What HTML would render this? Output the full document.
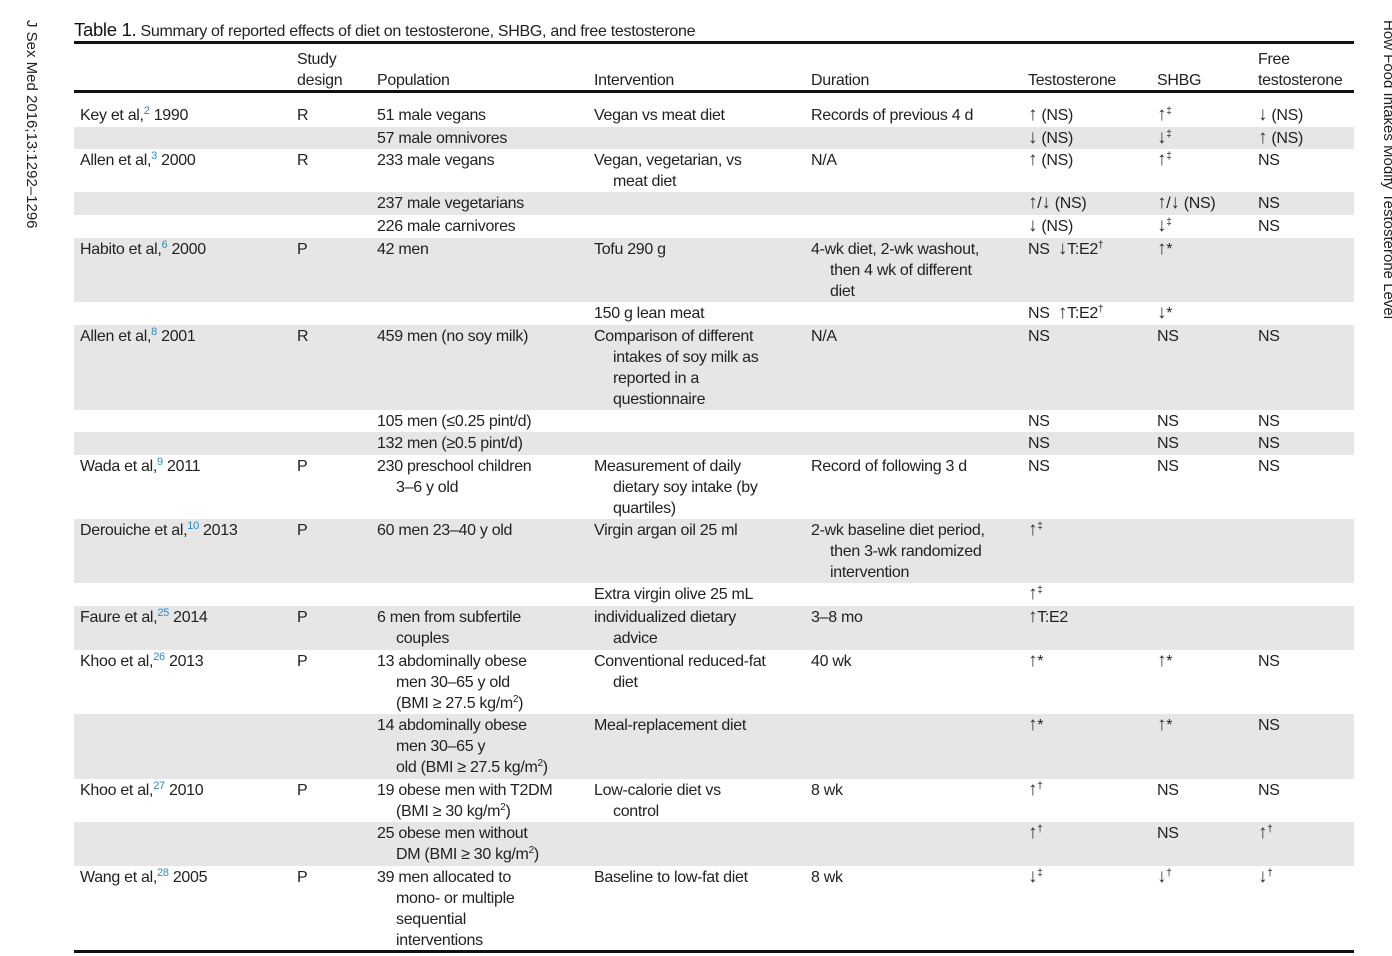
<!DOCTYPE html>
<html><head><meta charset="utf-8">
<style>
body{margin:0;width:1392px;height:956px;background:#fff;position:relative;overflow:hidden;font-family:"Liberation Sans","DejaVu Sans",sans-serif;color:#222;}
.t{position:absolute;font-size:16px;line-height:21px;white-space:nowrap;letter-spacing:-0.3px}
.band{position:absolute;left:74px;width:1280px;background:#e6e6e6}
.rule{position:absolute;left:74px;width:1280px;background:#111}
sup{font-size:10px;line-height:0;vertical-align:6px}
sup.r{color:#2a8bbf;font-size:11px}
.a{font-size:19px;line-height:0;color:#333}
.ind{padding-left:19px}
</style></head><body>
<div style="position:absolute;left:20px;top:20px;transform-origin:0 0;transform:translate(20px,0) rotate(90deg);font-size:15px;white-space:nowrap">J Sex Med 2016;13:1292–1296</div>
<div style="position:absolute;left:1382px;top:20px;transform-origin:0 0;transform:translate(15px,0) rotate(90deg);font-size:15px;white-space:nowrap">How Food Intakes Modify Testosterone Level</div>
<div class="t" style="left:74px;top:19px;font-size:16px"><span style="font-size:18.5px;color:#111">Table 1.</span> Summary of reported effects of diet on testosterone, SHBG, and free testosterone</div>
<div class="rule" style="top:41px;height:3px"></div>
<div class="rule" style="top:90px;height:3px"></div>
<div class="rule" style="top:950px;height:3px"></div>
<script>
const cols=[80,297,377,594,811,1028,1157,1258];
const headers=[[""],["Study","design"],["","Population"],["","Intervention"],["","Duration"],["","Testosterone"],["","SHBG"],["Free","testosterone"]];
const H=document.body;
headers.forEach((h,i)=>{const d=document.createElement('div');d.className='t';d.style.left=cols[i]+'px';d.style.top='49px';d.innerHTML=h.join('<br>');

H.appendChild(d);});
const U='<span class="a">↑</span>',D='<span class="a">↓</span>';
const rows=[
[104,0,['Key et al,<sup class="r">2</sup> 1990','R','51 male vegans','Vegan vs meat diet','Records of previous 4 d',U+' (NS)',U+'<sup>‡</sup>',D+' (NS)']],
[127,1,['','','57 male omnivores','','',D+' (NS)',D+'<sup>‡</sup>',U+' (NS)']],
[149,0,['Allen et al,<sup class="r">3</sup> 2000','R','233 male vegans','Vegan, vegetarian, vs<br><span class="ind">meat diet</span>','N/A',U+' (NS)',U+'<sup>‡</sup>','NS']],
[192,1,['','','237 male vegetarians','','',U+'/'+D+' (NS)',U+'/'+D+' (NS)','NS']],
[215,0,['','','226 male carnivores','','',D+' (NS)',D+'<sup>‡</sup>','NS']],
[238,1,['Habito et al,<sup class="r">6</sup> 2000','P','42 men','Tofu 290 g','4-wk diet, 2-wk washout,<br><span class="ind">then 4 wk of different</span><br><span class="ind">diet</span>','NS &nbsp;'+D+'T:E2<sup>†</sup>',U+'*','']],
[302,0,['','','','150 g lean meat','','NS &nbsp;'+U+'T:E2<sup>†</sup>',D+'*','']],
[325,1,['Allen et al,<sup class="r">8</sup> 2001','R','459 men (no soy milk)','Comparison of different<br><span class="ind">intakes of soy milk as</span><br><span class="ind">reported in a</span><br><span class="ind">questionnaire</span>','N/A','NS','NS','NS']],
[410,0,['','','105 men (≤0.25 pint/d)','','','NS','NS','NS']],
[432,1,['','','132 men (≥0.5 pint/d)','','','NS','NS','NS']],
[455,0,['Wada et al,<sup class="r">9</sup> 2011','P','230 preschool children<br><span class="ind">3–6 y old</span>','Measurement of daily<br><span class="ind">dietary soy intake (by</span><br><span class="ind">quartiles)</span>','Record of following 3 d','NS','NS','NS']],
[519,1,['Derouiche et al,<sup class="r">10</sup> 2013','P','60 men 23–40 y old','Virgin argan oil 25 ml','2-wk baseline diet period,<br><span class="ind">then 3-wk randomized</span><br><span class="ind">intervention</span>',U+'<sup>‡</sup>','','']],
[583,0,['','','','Extra virgin olive 25 mL','',U+'<sup>‡</sup>','','']],
[606,1,['Faure et al,<sup class="r">25</sup> 2014','P','6 men from subfertile<br><span class="ind">couples</span>','individualized dietary<br><span class="ind">advice</span>','3–8 mo',U+'T:E2','','']],
[650,0,['Khoo et al,<sup class="r">26</sup> 2013','P','13 abdominally obese<br><span class="ind">men 30–65 y old</span><br><span class="ind">(BMI ≥ 27.5 kg/m<sup>2</sup>)</span>','Conventional reduced-fat<br><span class="ind">diet</span>','40 wk',U+'*',U+'*','NS']],
[714,1,['','','14 abdominally obese<br><span class="ind">men 30–65 y</span><br><span class="ind">old (BMI ≥ 27.5 kg/m<sup>2</sup>)</span>','Meal-replacement diet','',U+'*',U+'*','NS']],
[779,0,['Khoo et al,<sup class="r">27</sup> 2010','P','19 obese men with T2DM<br><span class="ind">(BMI ≥ 30 kg/m<sup>2</sup>)</span>','Low-calorie diet vs<br><span class="ind">control</span>','8 wk',U+'<sup>†</sup>','NS','NS']],
[822,1,['','','25 obese men without<br><span class="ind">DM (BMI ≥ 30 kg/m<sup>2</sup>)</span>','','',U+'<sup>†</sup>','NS',U+'<sup>†</sup>']],
[866,0,['Wang et al,<sup class="r">28</sup> 2005','P','39 men allocated to<br><span class="ind">mono- or multiple</span><br><span class="ind">sequential</span><br><span class="ind">interventions</span>','Baseline to low-fat diet','8 wk',D+'<sup>‡</sup>',D+'<sup>†</sup>',D+'<sup>†</sup>']],
];
const colNames=['study','design','population','intervention','duration','testosterone','shbg','free-testosterone'];
rows.forEach((r,ri)=>{
  const next=ri<rows.length-1?rows[ri+1][0]:950;
  if(r[1]){const b=document.createElement('div');b.className='band';b.style.top=r[0]+'px';b.style.height=(next-r[0])+'px';
  
  H.appendChild(b);}
  r[2].forEach((c,i)=>{if(!c)return;const d=document.createElement('div');d.className='t';d.style.left=cols[i]+'px';d.style.top=(r[0]+1)+'px';d.innerHTML=c;
  
  H.appendChild(d);});
});
</script>
</body></html>
